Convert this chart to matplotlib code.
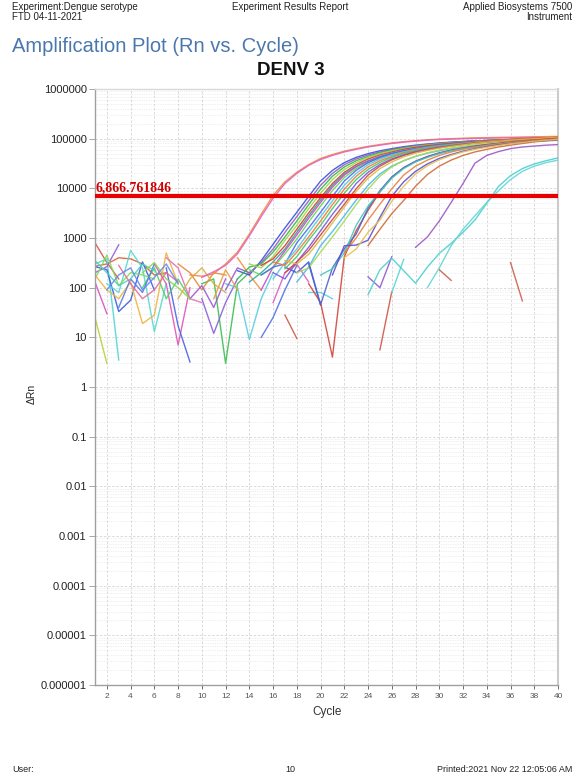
import matplotlib
matplotlib.use("Agg")
import matplotlib.pyplot as plt
from matplotlib.ticker import FixedLocator, FixedFormatter, NullFormatter
import numpy as np

plt.rcParams['font.family'] = ['Liberation Sans', 'DejaVu Sans']

# ---------------- data ----------------
x_ticks = list(range(2, 41, 2))
y_ticks = [1e-6, 1e-5, 1e-4, 1e-3, 1e-2, 1e-1, 1, 10, 100, 1000, 10000, 100000, 1000000]
y_tick_labels = ["0.000001", "0.00001", "0.0001", "0.001", "0.01", "0.1", "1", "10",
                 "100", "1000", "10000", "100000", "1000000"]
threshold = 6866.761846
threshold_label = "6,866.761846"

# amplification curves: first cycle + ΔRn values for consecutive cycles up to 40
amp_start = [9, 10, 13, 12, 13, 14, 15, 14, 15, 14, 15, 16, 16, 17, 16, 17, 17, 18, 18,
             19, 19, 20, 22, 24, 21, 22, 28, 24, 29]
amp_values = [
    [180, 170, 190, 300, 520, 1200, 3000, 7200, 13500, 21000, 30000, 40000, 48000, 56000, 63000, 70000, 76000, 82000, 87000, 91000, 95000, 98000, 100000, 102000, 104000, 105000, 106000, 107000, 108000, 109000, 110000, 111000],
    [160, 210, 280, 480, 1100, 2700, 6300, 12500, 20000, 29000, 38000, 46000, 54000, 61000, 68000, 74000, 80000, 85000, 89000, 93000, 96000, 98000, 100000, 101000, 102000, 103000, 104000, 105000, 106000, 106000, 107000],
    [220, 180, 350, 750, 1600, 3300, 6900, 14000, 23000, 33000, 42000, 50000, 57000, 63000, 69000, 74000, 78000, 82000, 85000, 88000, 90000, 92000, 94000, 95000, 96000, 97000, 98000, 99000],
    [90, 250, 200, 320, 600, 1300, 2700, 5600, 11500, 20000, 30000, 39000, 47000, 54000, 61000, 67000, 72000, 77000, 81000, 84000, 87000, 90000, 92000, 94000, 96000, 98000, 99000, 100000, 101000],
    [150, 260, 300, 520, 1050, 2200, 4700, 9600, 17500, 27000, 36000, 44000, 52000, 59000, 65000, 70000, 75000, 79000, 83000, 86000, 89000, 92000, 94000, 96000, 98000, 100000, 101000, 102000],
    [300, 250, 420, 900, 1800, 3900, 8000, 15000, 24000, 33000, 42000, 50000, 57000, 63000, 69000, 74000, 78000, 82000, 85000, 88000, 91000, 93000, 95000, 97000, 99000, 100000, 101000],
    [280, 380, 700, 1500, 3200, 6500, 12500, 21000, 30000, 39000, 47000, 54000, 61000, 67000, 72000, 77000, 81000, 85000, 88000, 91000, 94000, 97000, 99000, 102000, 104000, 106000],
    [130, 200, 330, 600, 1300, 2800, 5800, 11500, 19500, 28000, 36000, 44000, 51000, 57000, 63000, 68000, 73000, 77000, 81000, 84000, 87000, 90000, 92000, 94000, 96000, 97000, 98000],
    [90, 260, 550, 1150, 2500, 5200, 10500, 18500, 27000, 35000, 43000, 50000, 57000, 63000, 68000, 73000, 78000, 82000, 85000, 88000, 91000, 94000, 96000, 98000, 100000, 102000],
    [230, 180, 250, 480, 950, 2100, 4400, 9000, 16500, 25000, 33000, 41000, 48000, 55000, 61000, 66000, 71000, 75000, 79000, 83000, 86000, 89000, 92000, 94000, 96000, 98000, 100000],
    [180, 260, 300, 800, 1600, 3300, 6900, 14000, 23000, 33000, 42000, 50000, 57000, 63000, 69000, 74000, 78000, 82000, 85000, 88000, 91000, 93000, 95000, 97000, 98000, 99000],
    [150, 320, 600, 1300, 2700, 5600, 11500, 20000, 30000, 39000, 47000, 54000, 61000, 67000, 72000, 76000, 80000, 84000, 87000, 90000, 92000, 94000, 96000, 97000, 98000],
    [330, 280, 520, 1050, 2200, 4700, 9600, 17500, 27000, 36000, 44000, 52000, 59000, 65000, 70000, 75000, 80000, 84000, 88000, 92000, 95000, 98000, 101000, 104000, 107000],
    [240, 420, 900, 1800, 3900, 8000, 15000, 24000, 33000, 42000, 50000, 57000, 63000, 69000, 74000, 78000, 82000, 86000, 89000, 92000, 95000, 97000, 99000, 101000],
    [200, 150, 330, 650, 1400, 3000, 6000, 12500, 21000, 30000, 39000, 47000, 55000, 61000, 67000, 72000, 77000, 81000, 85000, 88000, 91000, 93000, 95000, 97000, 98000],
    [200, 330, 560, 1150, 2350, 4800, 9800, 18500, 28000, 37500, 46000, 53500, 60000, 66000, 71000, 76000, 81000, 85000, 89000, 93000, 97000, 100000, 103000, 106000],
    [350, 300, 470, 950, 2000, 4200, 8700, 16000, 25000, 34000, 43000, 51000, 58000, 64000, 70000, 75000, 80000, 85000, 89000, 93000, 97000, 100000, 103000, 106000],
    [130, 260, 700, 1350, 2800, 5800, 11500, 19500, 28000, 36000, 44000, 51000, 57000, 63000, 68000, 73000, 77000, 81000, 85000, 88000, 91000, 93000, 95000],
    [200, 250, 520, 1050, 2200, 4700, 9600, 17500, 27000, 36000, 44000, 52000, 59000, 65000, 70000, 75000, 79000, 83000, 86000, 89000, 92000, 94000, 96000],
    [120, 50, 4, 420, 1400, 3600, 8500, 16500, 26000, 35000, 44000, 52000, 59000, 65000, 71000, 76000, 81000, 86000, 90000, 94000, 98000, 102000],
    [300, 45, 250, 600, 1200, 4000, 9000, 17000, 26000, 35000, 43000, 51000, 58000, 64000, 70000, 75000, 79000, 83000, 86000, 89000, 91000, 93000],
    [180, 240, 500, 1800, 4400, 8500, 16000, 25000, 34000, 42000, 50000, 57000, 63000, 68000, 73000, 78000, 82000, 86000, 89000, 92000, 94000],
    [500, 1000, 2300, 4800, 9800, 18500, 28000, 37000, 46000, 54000, 61000, 67000, 73000, 78000, 83000, 87000, 91000, 95000, 98000],
    [700, 1500, 3100, 5700, 11000, 19000, 28000, 37000, 46000, 54000, 61000, 68000, 74000, 80000, 86000, 91000, 96000],
    [180, 700, 720, 900, 2600, 6900, 13500, 22000, 31000, 40000, 48000, 56000, 63000, 69000, 75000, 80000, 85000, 89000, 93000, 96000],
    [400, 600, 1300, 2300, 5500, 11000, 19500, 28500, 37500, 46000, 54000, 61000, 67000, 73000, 79000, 84000, 89000, 93000, 97000],
    [650, 1050, 2200, 5200, 12500, 32000, 46000, 55000, 63000, 68000, 71000, 74000, 76000],
    [72, 230, 390, 220, 123, 260, 490, 780, 1300, 2300, 5000, 11000, 18000, 25000, 31000, 36000, 41000],
    [100, 250, 700, 1500, 2800, 5200, 9000, 15000, 22000, 28000, 33000, 37000],
]
amp_colors = ['#f28a3a', '#e064c4', '#3553dd', '#9a58cc', '#33b845', '#9ad846', '#dd3a33',
              '#2fa897', '#cc48cc', '#66d656', '#4a6af0', '#55c8de', '#ee7a34', '#45c868',
              '#7a58de', '#cc4848', '#dcb845', '#48b8ee', '#a8d858', '#d0463a', '#4a66cc',
              '#46c8b8', '#e6803e', '#cf6a35', '#5a4fd0', '#e8c050', '#9b59c6', '#4ccfd0',
              '#62d6d6']

# baseline noise fragments: first cycle + ΔRn values
noise_start = [1, 1, 1, 1, 1, 1, 2, 1, 1, 1, 6, 7, 10, 10, 12, 15, 17, 5, 8, 7,
               17, 19, 24, 25, 26, 30, 36, 16, 11, 3, 13, 9,
               1, 3, 5, 2, 8]
noise_values = [
    [800, 320, 150],
    [270, 300, 400, 380, 300, 180, 200],
    [130, 30],
    [25, 3],
    [300, 380, 3.5],
    [265, 230, 33, 56, 330, 90],
    [120, 80, 560, 250, 13, 120],
    [200, 265, 730],
    [150, 450, 110, 200, 180, 150],
    [180, 90, 60, 130, 19, 28, 500, 120],
    [300, 120, 7, 100],
    [250, 17, 3.2],
    [120, 150, 3, 120, 200],
    [60, 12, 50, 150],
    [120, 100, 9, 60, 200],
    [10, 25, 90, 280],
    [28, 9.5],
    [100, 250, 60, 150, 60],
    [300, 200, 90, 200, 180],
    [400, 250, 60, 50],
    [260, 200, 330, 45],
    [80, 80, 60],
    [165, 100, 420],
    [5.6, 83],
    [80, 370],
    [230, 140],
    [320, 54],
    [50, 200, 300, 130],
    [60, 230, 90],
    [40, 150, 80, 300],
    [400, 180, 90],
    [60, 110, 40, 150],
    [350, 200, 110, 150, 300, 220],
    [280, 120, 60, 90, 200, 130],
    [200, 320, 150, 100, 60],
    [90, 180, 250, 90, 160, 300, 120],
    [60, 150, 250, 120, 80],
]
noise_colors = ['#d9534f', '#e0603a', '#d84fc0', '#b5d334', '#4fd6d6', '#3d5ce0', '#57d9cf',
                '#9c5bd6', '#7fdc5a', '#f0b440', '#e055b8', '#4a63e0', '#39c04f', '#8a5fd8',
                '#58cde0', '#5470e0', '#cc5a4a', '#4fcf6f', '#e8873e', '#e070c0', '#3f55d8',
                '#5ad0e6', '#8e5ad0', '#d05545', '#5ad5d5', '#c8604a', '#c8604a', '#d860c0',
                '#e8a040', '#5a7ae0', '#f09040', '#a058d0',
                '#50d0c0', '#e66aa0', '#8bd650', '#6a8ae8', '#d8b040']

# ---------------- figure ----------------
W, H = 583, 778
fig = plt.figure(figsize=(W / 100, H / 100), dpi=100)
fig.patch.set_facecolor('white')

ax_l, ax_r, ax_t, ax_b = 95, 558, 89, 685
ax = fig.add_axes([ax_l / W, 1 - ax_b / H, (ax_r - ax_l) / W, (ax_b - ax_t) / H])

for st, vals, col in zip(noise_start, noise_values, noise_colors):
    cyc = np.arange(st, st + len(vals))
    ax.plot(cyc, vals, color=col, lw=1.0, alpha=0.9, zorder=2)
for st, vals, col in zip(amp_start, amp_values, amp_colors):
    cyc = np.arange(st, st + len(vals))
    ax.plot(cyc, vals, color=col, lw=1.0, alpha=0.9, zorder=3)

ax.axhline(threshold, color='#e80000', lw=3.0, zorder=5)
ax.text(1.05, threshold * 1.08, threshold_label, color='#d00000', fontsize=10,
        family=['Liberation Serif', 'DejaVu Serif'], fontweight='bold',
        ha='left', va='bottom', zorder=6)

ax.set_yscale('log')
ax.set_xlim(1, 40)
ax.set_ylim(1e-6, 1e6)
ax.yaxis.set_major_locator(FixedLocator(y_ticks))
ax.yaxis.set_major_formatter(FixedFormatter(y_tick_labels))
minor = [m * 10.0 ** e for e in range(-6, 6) for m in range(2, 10)]
ax.yaxis.set_minor_locator(FixedLocator(minor))
ax.yaxis.set_minor_formatter(NullFormatter())
ax.xaxis.set_major_locator(FixedLocator(x_ticks))
ax.xaxis.set_major_formatter(FixedFormatter([str(t) for t in x_ticks]))

ax.grid(True, which='major', axis='both', color='#d4d4d4', linestyle=(0, (3, 2)), lw=0.6)
ax.grid(True, which='minor', axis='y', color='#e2e2e2', linestyle=(0, (1, 1.5)), lw=0.5)
ax.set_axisbelow(True)

ax.tick_params(axis='x', which='major', labelsize=6, colors='#555555', length=3,
               width=0.6, pad=3)
ax.tick_params(axis='y', which='major', labelsize=8, labelcolor='#222222', color='#999999',
               length=4, width=0.6, pad=2)
ax.tick_params(axis='y', which='minor', length=0)

ax.spines['left'].set_color('#a0a0a0')
ax.spines['bottom'].set_color('#a0a0a0')
ax.spines['top'].set_color('#d8d8d8')
ax.spines['right'].set_color('#cccccc')
ax.spines['right'].set_linewidth(1.5)
for s in ['left', 'bottom', 'top']:
    ax.spines[s].set_linewidth(1.0)


def ftext(x, y, s, **kw):
    fig.text(x / W, 1 - y / H, s, **kw)


ftext(12, 2, "Experiment:Dengue serotype", fontsize=7, va='top', ha='left', color='#222222')
ftext(12, 12.5, "FTD 04-11-2021", fontsize=7, va='top', ha='left', color='#222222')
ftext(290, 2, "Experiment Results Report", fontsize=7, va='top', ha='center', color='#222222')
ftext(572, 2, "Applied Biosystems 7500", fontsize=7, va='top', ha='right', color='#222222')
ftext(572, 12.5, "Instrument", fontsize=7, va='top', ha='right', color='#222222')
ftext(12, 37, "Amplification Plot (Rn vs. Cycle)", fontsize=14.5, va='top', ha='left',
      color='#4a78ad')
ftext(291, 62, "DENV 3", fontsize=13.5, fontweight='bold', va='top', ha='center',
      color='#111111')
ftext(32, 394, "ΔRn", fontsize=7.5, rotation=90, va='center', ha='center', color='#222222')
ftext(327, 712, "Cycle", fontsize=8.5, va='center', ha='center', color='#333333')
ftext(12, 770, "User:", fontsize=6.5, va='center', ha='left', color='#222222')
ftext(290, 770, "10", fontsize=6.5, va='center', ha='center', color='#222222')
ftext(572, 770, "Printed:2021 Nov 22 12:05:06 AM", fontsize=6.5, va='center', ha='right',
      color='#222222')

fig.savefig("out.png", dpi=100, facecolor='white')
